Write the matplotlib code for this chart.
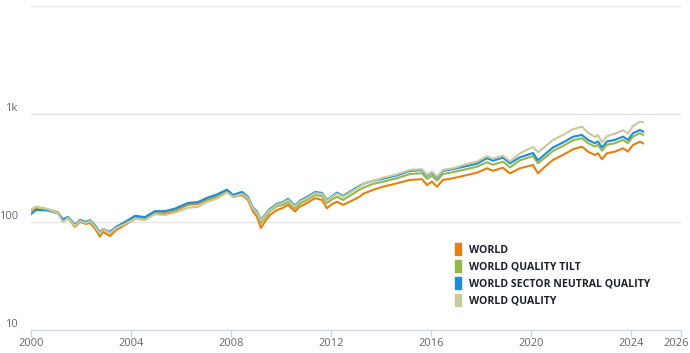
import numpy as np
import matplotlib
matplotlib.use("Agg")
import matplotlib.pyplot as plt
from matplotlib.lines import Line2D
from matplotlib.transforms import ScaledTranslation

plt.rcParams["font.family"] = ["Open Sans", "DejaVu Sans"]

# dates as decimal years
dates = [2000.00, 2000.20, 2000.68, 2001.08, 2001.28, 2001.48, 2001.76, 2001.96,
         2002.20, 2002.36, 2002.56, 2002.76, 2002.88, 2003.16, 2003.40, 2003.76,
         2004.16, 2004.56, 2004.96, 2005.36, 2005.76, 2006.28, 2006.68, 2007.04,
         2007.44, 2007.84, 2008.08, 2008.44, 2008.68, 2008.88, 2009.04, 2009.20,
         2009.36, 2009.56, 2009.84, 2010.08, 2010.28, 2010.56, 2010.76, 2010.96,
         2011.36, 2011.64, 2011.84, 2012.04, 2012.24, 2012.48, 2012.76, 2013.16,
         2013.28, 2013.68, 2014.08, 2014.64, 2015.16, 2015.64, 2015.84, 2016.04,
         2016.24, 2016.48, 2016.88, 2017.44, 2017.84, 2018.24, 2018.48, 2018.88,
         2019.16, 2019.56, 2020.08, 2020.28, 2020.56, 2020.88, 2021.28, 2021.68,
         2022.04, 2022.28, 2022.56, 2022.68, 2022.84, 2023.04, 2023.36, 2023.68,
         2023.88, 2024.08, 2024.36, 2024.48]

world = [126, 132, 128, 120, 104, 109, 90, 100, 96, 98, 87, 73, 81, 74, 84, 94,
         107, 106, 121, 121, 127, 144, 147, 160, 172, 191, 171, 178, 160, 125, 112, 88,
         101, 116, 129, 135, 144, 125, 139, 146, 166, 160, 134, 146, 154, 144, 154, 172,
         182, 198, 212, 228, 245, 249, 220, 236, 212, 245, 254, 272, 286, 314, 298, 318,
         282, 314, 337, 282, 325, 375, 417, 471, 498, 448, 417, 433, 381, 433, 448, 481,
         448, 516, 554, 535]

quality_tilt = [129, 138, 131, 123, 104, 111, 94, 104, 100, 102, 93, 78, 86, 79, 90, 98,
                109, 108, 124, 124, 130, 147, 150, 163, 176, 195, 175, 186, 167, 133, 122, 98,
                110, 126, 140, 144, 153, 133, 148, 156, 177, 174, 149, 162, 171, 160, 175, 200,
                207, 225, 236, 254, 278, 283, 250, 268, 241, 278, 289, 309, 325, 357, 339, 361,
                320, 372, 408, 349, 394, 454, 505, 571, 596, 536, 499, 518, 456, 518, 536, 575,
                536, 617, 663, 640]

sector_neutral = [118, 129, 128, 120, 106, 111, 94, 104, 100, 104, 93, 80, 86, 81, 90, 100,
                  114, 111, 126, 126, 133, 150, 153, 167, 180, 199, 178, 190, 171, 136, 125, 104,
                  117, 132, 147, 153, 164, 142, 158, 166, 189, 186, 159, 173, 187, 174, 191, 217,
                  225, 240, 251, 270, 297, 302, 267, 286, 257, 297, 308, 330, 346, 389, 369, 394,
                  349, 397, 435, 372, 424, 489, 544, 615, 639, 575, 535, 556, 489, 556, 575, 617,
                  575, 662, 711, 687]

quality = [129, 138, 131, 120, 100, 109, 92, 102, 98, 102, 91, 78, 86, 79, 88, 96,
           107, 104, 118, 116, 122, 135, 138, 153, 165, 187, 171, 182, 167, 133, 122, 102,
           115, 129, 144, 150, 160, 139, 155, 162, 185, 182, 156, 170, 183, 171, 187, 213,
           225, 240, 257, 276, 303, 308, 272, 292, 262, 303, 314, 344, 362, 406, 385, 411,
           364, 432, 495, 441, 498, 574, 639, 721, 763, 672, 612, 636, 547, 622, 658, 706,
           658, 774, 849, 837]

names = ["WORLD", "WORLD QUALITY TILT", "WORLD SECTOR NEUTRAL QUALITY", "WORLD QUALITY"]
colors = ["#e5800f", "#98b74a", "#1c8ed8", "#c8c99d"]

xticks = [2000, 2004, 2008, 2012, 2016, 2020, 2024, 2026]
xlabels = ["2000", "2004", "2008", "2012", "2016", "2020", "2024", ""]
yticks = [10, 100, 1000, 10000]
ylabels = ["10", "100", "1k", ""]

fig = plt.figure(figsize=(6.9, 3.53), dpi=100)
ax = fig.add_axes([0.0449, 0.0652, 0.942, 0.918])

for series, c in zip([world, quality_tilt, sector_neutral, quality], colors):
    ax.plot(dates, series, color=c, lw=1.5, solid_joinstyle="round")

ax.set_yscale("log")
ax.set_ylim(10, 10000)
ax.set_xlim(2000, 2026)
ax.minorticks_off()

ax.set_yticks(yticks)
ax.set_yticklabels(ylabels)
ax.yaxis.grid(True, color="#e6e6e6", lw=1)
ax.tick_params(axis="y", length=0, pad=9.5, labelsize=8, labelcolor="#666666")
for lab in ax.get_yticklabels():
    lab.set_horizontalalignment("right")
    lab.set_transform(lab.get_transform() + ScaledTranslation(0, 0.07, fig.dpi_scale_trans))

ax.set_xticks(xticks)
ax.set_xticklabels(xlabels)
ax.tick_params(axis="x", length=5, width=1, color="#ccd6eb", pad=1,
               labelsize=8, labelcolor="#666666")
# last label is pushed inside the figure, as in the original
ax.text(1.0, 0, "2026", transform=ax.transAxes + ScaledTranslation(0.075, -0.083, fig.dpi_scale_trans),
        ha="right", va="top", fontsize=8, color="#666666")

for s in ["top", "right", "left"]:
    ax.spines[s].set_visible(False)
ax.spines["bottom"].set_color("#ccd6eb")
ax.set_axisbelow(True)

rect = [(-0.25, -0.5), (0.25, -0.5), (0.25, 0.5), (-0.25, 0.5), (-0.25, -0.5)]
handles = [Line2D([0], [0], ls="none", marker=rect, markersize=8,
                  markerfacecolor=c, markeredgecolor=c) for c in colors]
leg = ax.legend(handles, names, loc="upper left", bbox_to_anchor=(0.643, 0.28),
                frameon=False, handlelength=0.8, handletextpad=0.6, labelspacing=0.58,
                borderpad=0, prop={"size": 7.6, "weight": "bold"})
for t in leg.get_texts():
    t.set_color("#1f1f30")

fig.savefig("out.png", dpi=100)
